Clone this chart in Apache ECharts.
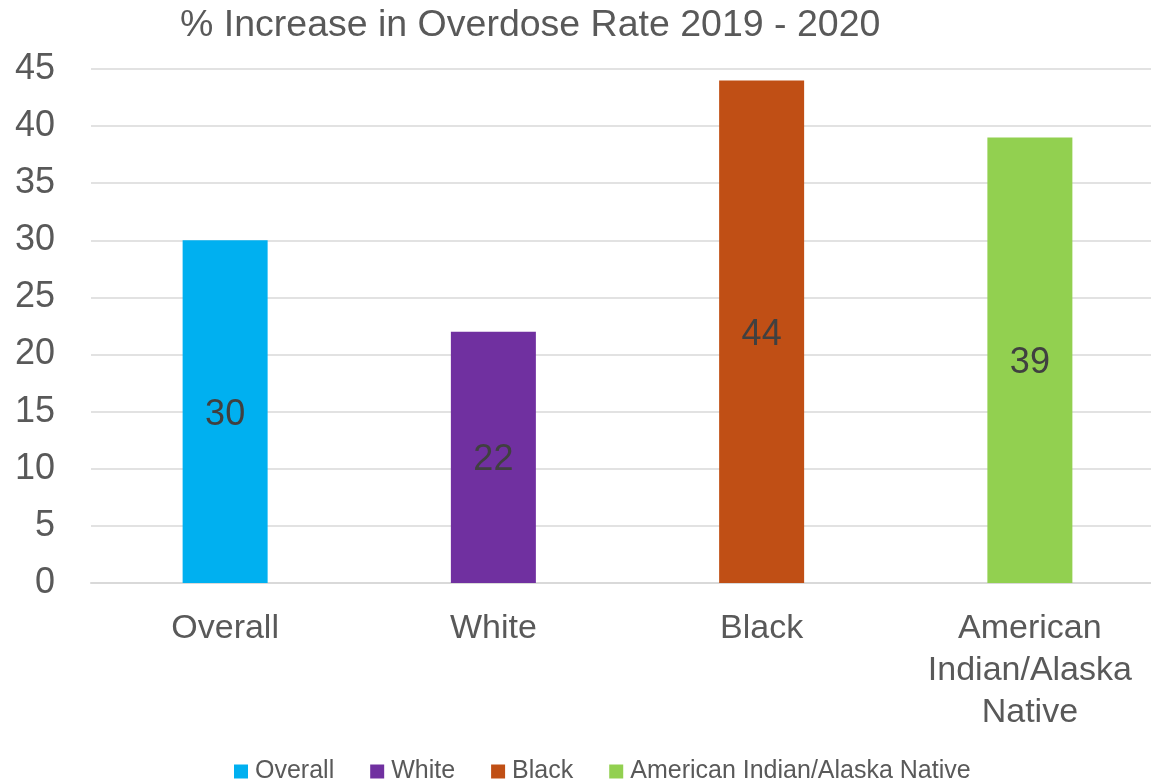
<!DOCTYPE html>
<html><head><meta charset="utf-8">
<script src="https://cdn.jsdelivr.net/npm/echarts@6/dist/echarts.min.js"></script>
<style>html,body{margin:0;padding:0;background:#fff}#c{width:1151px;height:779px}</style>
</head><body><div id="c"></div>
<script>
const categories = ['Overall', 'White', 'Black', 'American Indian/Alaska Native'];
const tickLabels = ['Overall', 'White', 'Black', 'American\nIndian/Alaska\nNative'];
const values = [30, 22, 44, 39];
const colors = ['#00B0F0', '#7030A0', '#C04F15', '#92D050'];
const yTicks = [0, 5, 10, 15, 20, 25, 30, 35, 40, 45];

const FONT = '"Liberation Sans", Arial, sans-serif';
const series = categories.map((name, i) => ({
  name: name,
  type: 'bar',
  stack: 'all',
  barWidth: 85,
  itemStyle: { color: colors[i] },
  data: values.map((v, j) => (j === i ? v : '-')),
  label: { show: true, position: 'inside', offset: [0, 3], color: '#404040', fontSize: 36, fontFamily: FONT },
  emphasis: { disabled: true }
}));

const chart = echarts.init(document.getElementById('c'), null, { renderer: 'canvas' });
chart.setOption({
  animation: false,
  title: {
    text: '% Increase in Overdose Rate 2019 - 2020',
    left: 175, top: 2,
    textStyle: { color: '#595959', fontSize: 37.5, fontWeight: 'normal', fontFamily: FONT }
  },
  legend: {
    top: 754, left: 229,
    itemWidth: 14, itemHeight: 14, itemGap: 36,
    icon: 'rect',
    textStyle: { color: '#595959', fontSize: 25, fontFamily: FONT, padding: [0, 0, 0, 2] },
    data: categories
  },
  grid: { left: 91, width: 1073, top: 69, height: 514, containLabel: false, outerBoundsMode: 'none' },
  xAxis: {
    type: 'category',
    data: categories,
    axisLine: { lineStyle: { color: '#D9D9D9', width: 2 } },
    axisTick: { show: false },
    axisLabel: {
      color: '#595959', fontSize: 34, fontFamily: FONT, lineHeight: 42, margin: 25,
      interval: 0,
      formatter: (v, i) => tickLabels[i]
    }
  },
  yAxis: {
    type: 'value', min: yTicks[0], max: yTicks[yTicks.length - 1], interval: 5,
    axisLine: { show: false }, axisTick: { show: false },
    splitLine: { lineStyle: { color: '#D9D9D9', width: 1.5 } },
    axisLabel: { color: '#595959', fontSize: 36, fontFamily: FONT, margin: 36, padding: [4, 0, 0, 0] }
  },
  series: series
});
</script></body></html>
